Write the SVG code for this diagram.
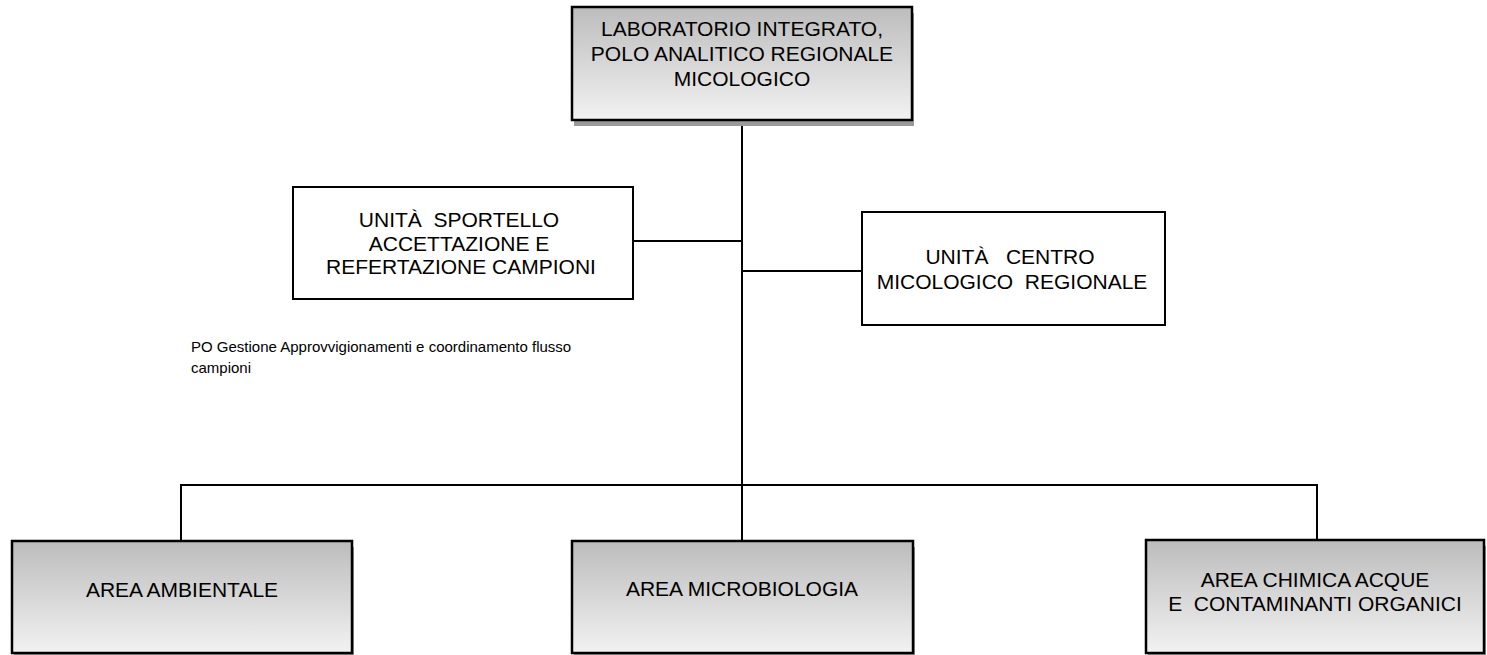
<svg xmlns="http://www.w3.org/2000/svg" width="1487" height="655" viewBox="0 0 1487 655">
  <style>
    .lbl { font-family: "Liberation Sans", Arial, sans-serif; font-size: 21px; fill: #000; text-anchor: middle; white-space: pre; }
    .note { font-family: "Liberation Sans", Arial, sans-serif; font-size: 15px; fill: #000; }
    .shade { fill: url(#metal); stroke: #000; stroke-width: 2.5; }
    .plain { fill: #fff; stroke: #000; stroke-width: 2; }
    .shadow { fill: #9a9a9a; }
    .wire { stroke: #000; stroke-width: 2; fill: none; }
  </style>
  <defs>
    <linearGradient id="metal" x1="0" y1="0" x2="0" y2="1">
      <stop offset="0" stop-color="#bcbcbc"/>
      <stop offset="1" stop-color="#f2f2f2"/>
    </linearGradient>
  </defs>
  <rect width="1487" height="655" fill="#fff"/>

  <!-- connectors -->
  <g id="connectors">
    <path class="wire" d="M742 120 V541"/>
    <path class="wire" d="M633 241 H742"/>
    <path class="wire" d="M742 271 H862"/>
    <path class="wire" d="M181 541 V485 H1317 V541"/>
  </g>

  <!-- head node -->
  <g id="laboratorio">
    <rect class="shadow" x="574" y="13" width="340" height="113"/>
    <rect class="shade" x="572" y="7" width="340" height="113"/>
    <text class="lbl" x="742" y="36">LABORATORIO INTEGRATO,</text>
    <text class="lbl" x="742" y="61">POLO ANALITICO REGIONALE</text>
    <text class="lbl" x="742" y="86">MICOLOGICO</text>
  </g>

  <g id="sportello">
    <rect class="plain" x="293" y="187" width="340" height="112"/>
    <text class="lbl" x="459" y="227">UNITÀ  SPORTELLO</text>
    <text class="lbl" x="459" y="251">ACCETTAZIONE E</text>
    <text class="lbl" x="461" y="274">REFERTAZIONE CAMPIONI</text>
  </g>

  <g id="centro-micologico">
    <rect class="plain" x="862" y="212" width="303" height="113"/>
    <text class="lbl" x="1010" y="264">UNITÀ   CENTRO</text>
    <text class="lbl" x="1012" y="289">MICOLOGICO  REGIONALE</text>
  </g>

  <g id="po-gestione">
    <text class="note" x="191" y="352">PO Gestione Approvvigionamenti e coordinamento flusso</text>
    <text class="note" x="191" y="373">campioni</text>
  </g>

  <g id="area-ambientale">
    <rect class="shadow" x="14" y="547" width="340" height="113"/>
    <rect class="shade" x="12" y="541" width="340" height="112"/>
    <text class="lbl" x="182" y="597">AREA AMBIENTALE</text>
  </g>

  <g id="area-microbiologia">
    <rect class="shadow" x="574" y="547" width="341" height="113"/>
    <rect class="shade" x="572" y="541" width="341" height="112"/>
    <text class="lbl" x="742" y="596">AREA MICROBIOLOGIA</text>
  </g>

  <g id="area-chimica">
    <rect class="shadow" x="1148" y="546" width="338" height="113"/>
    <rect class="shade" x="1146" y="540" width="338" height="113"/>
    <text class="lbl" x="1315" y="587">AREA CHIMICA ACQUE</text>
    <text class="lbl" x="1315" y="611">E  CONTAMINANTI ORGANICI</text>
  </g>
</svg>
